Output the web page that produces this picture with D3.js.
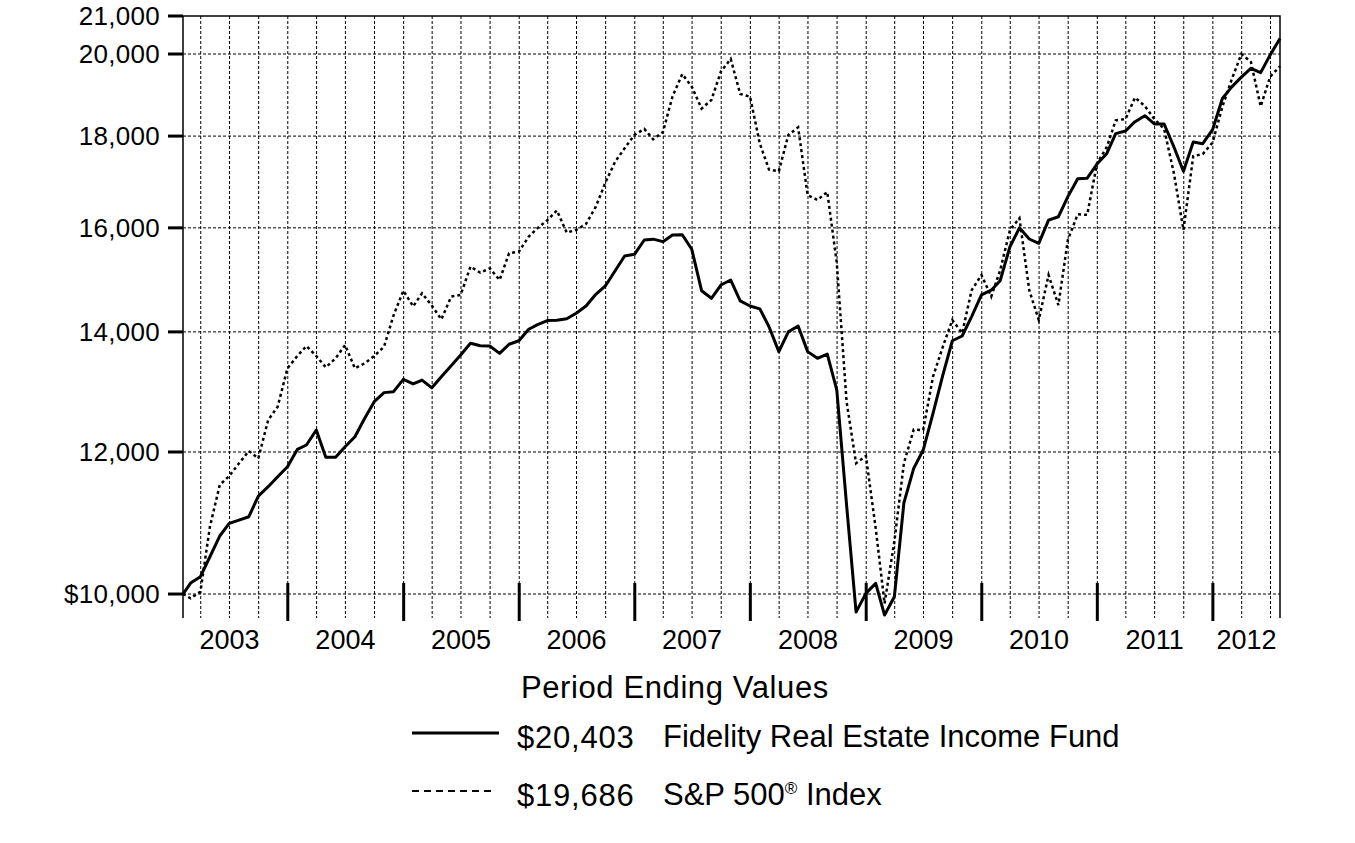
<!DOCTYPE html>
<html>
<head>
<meta charset="utf-8">
<script src="https://cdn.jsdelivr.net/npm/d3@7"></script>
<style>
  body { margin: 0; background: #fff; }
  text { font-family: "Liberation Sans", Arial, sans-serif; fill: #000; }
</style>
</head>
<body>
<div id="chart"></div>
<script>
// Hypothetical $10,000 investment, first point is the start date, then month ends
const startDate = new Date(2003, 1, 4);
const endDate = new Date(2012, 6, 31);

// Fidelity Real Estate Income Fund (solid)
const fundValues = [10000,
  10142, 10225, 10490, 10773, 10950, 10996, 11043, 11340, 11477, 11625, 11775,          // 2003 Feb-Dec
  12040, 12108, 12343, 11918, 11918, 12080, 12237, 12530, 12800, 12950, 12966, 13173,   // 2004
  13095, 13160, 13030, 13218, 13405, 13590, 13796, 13754, 13750, 13620, 13780, 13842,   // 2005
  14047, 14130, 14206, 14210, 14237, 14338, 14473, 14692, 14850, 15144, 15433, 15465,   // 2006
  15753, 15770, 15719, 15853, 15860, 15566, 14760, 14617, 14868, 14964, 14567, 14473,   // 2007
  14420, 14093, 13650, 14000, 14106, 13650, 13533, 13608, 12994, 11210, 9771, 10009,    // 2008
  10138, 9734, 9966, 11240, 11750, 12030, 12611, 13246, 13842, 13926, 14276, 14680,     // 2009
  14770, 14950, 15617, 16000, 15773, 15686, 16160, 16230, 16654, 17040, 17054, 17366,   // 2010
  17604, 18057, 18117, 18336, 18478, 18282, 18282, 17750, 17205, 17862, 17826, 18148,   // 2011
  18890, 19167, 19415, 19637, 19527, 19977, 20403                                       // 2012 Jan-Jul
];

// S&P 500 Index (dashed)
const spValues = [10000,
  9945, 10030, 10902, 11502, 11636, 11827, 12015, 11903, 12502, 12719, 13361,           // 2003 Feb-Dec
  13573, 13749, 13573, 13378, 13533, 13766, 13361, 13447, 13573, 13736, 14300, 14760,   // 2004
  14466, 14712, 14480, 14228, 14648, 14680, 15223, 15105, 15190, 14964, 15487, 15520,   // 2005
  15820, 15995, 16160, 16360, 15903, 15957, 16080, 16440, 16955, 17419, 17722, 18026,   // 2006
  18166, 17926, 18093, 18935, 19490, 19180, 18646, 18855, 19554, 19875, 19000, 18935,   // 2007
  17826, 17243, 17205, 18026, 18203, 16687, 16583, 16754, 15300, 12800, 11827, 11940,   // 2008
  10880, 9880, 10700, 11827, 12350, 12343, 13218, 13736, 14215, 13977, 14770, 15060,    // 2009
  14650, 15150, 15957, 16200, 14770, 14215, 15060, 14490, 15755, 16280, 16270, 17378,   // 2010
  17750, 18366, 18400, 18914, 18707, 18400, 18166, 17157, 15957, 17543, 17590, 17850,   // 2011
  18690, 19349, 20000, 19800, 18700, 19430, 19686                                       // 2012 Jan-Jul
];

const yTicks = [10000, 12000, 14000, 16000, 18000, 20000, 21000];
const years = d3.range(2003, 2013);

const legendTitle = "Period Ending Values";
const seriesNames = ["Fidelity Real Estate Income Fund", "S&P 500\u00AE Index"];
const endingValues = ["$20,403", "$19,686"];

// Dates: start date, then every month end from Feb 2003 through July 2012
const monthEnds = d3.timeMonth.range(new Date(2003, 2, 1), new Date(2012, 8, 1))
  .map(d => d3.timeDay.offset(d, -1));
const dates = [startDate].concat(monthEnds);

const width = 1355, height = 843;
const plotLeft = 183, plotRight = 1280, plotTop = 16, plotBottom = 618;

const x = d3.scaleTime().domain([startDate, endDate]).range([plotLeft, plotRight]);
const y = d3.scaleLog().domain([9697, 21000]).range([plotBottom, plotTop]);

const svg = d3.select("#chart").append("svg")
    .attr("width", width)
    .attr("height", height);

// Vertical grid: every quarter
const quarters = d3.timeMonth.every(3).range(new Date(2003, 3, 1), d3.timeDay.offset(endDate, 1));
svg.append("g")
  .selectAll("line")
  .data(quarters)
  .join("line")
    .attr("x1", d => x(d)).attr("x2", d => x(d))
    .attr("y1", plotTop).attr("y2", plotBottom)
    .attr("stroke", "#000")
    .attr("stroke-width", 1)
    .attr("stroke-dasharray", "3,2");

// Horizontal grid at the tick values (top one is the frame)
svg.append("g")
  .selectAll("line")
  .data(yTicks.filter(d => d < 21000))
  .join("line")
    .attr("x1", plotLeft).attr("x2", plotRight)
    .attr("y1", d => y(d)).attr("y2", d => y(d))
    .attr("stroke", "#000")
    .attr("stroke-width", 1)
    .attr("stroke-dasharray", "3,2");

// Frame: left axis, top and right borders
svg.append("path")
    .attr("d", `M${plotLeft},${plotBottom}V${plotTop}H${plotRight}V${plotBottom}`)
    .attr("fill", "none")
    .attr("stroke", "#000")
    .attr("stroke-width", 1.5);

// Y axis ticks and labels
const yAxis = svg.append("g");
yAxis.selectAll("line")
  .data(yTicks)
  .join("line")
    .attr("x1", plotLeft - 15).attr("x2", plotLeft)
    .attr("y1", d => y(d)).attr("y2", d => y(d))
    .attr("stroke", "#000")
    .attr("stroke-width", 3);
yAxis.selectAll("text")
  .data(yTicks)
  .join("text")
    .attr("x", plotLeft - 23)
    .attr("y", d => y(d))
    .attr("dy", "0.36em")
    .attr("text-anchor", "end")
    .attr("font-size", 26)
    .attr("letter-spacing", 0.3)
    .text(d => (d === 10000 ? "$" : "") + d3.format(",")(d));

// Year boundary ticks
svg.append("g")
  .selectAll("line")
  .data(years.slice(1).map(yr => new Date(yr, 0, 1)))
  .join("line")
    .attr("x1", d => x(d)).attr("x2", d => x(d))
    .attr("y1", plotBottom - 35).attr("y2", plotBottom + 3)
    .attr("stroke", "#000")
    .attr("stroke-width", 3);

// Year labels, centred on mid-year (last one centred in its visible part)
svg.append("g")
  .selectAll("text")
  .data(years)
  .join("text")
    .attr("x", yr => Math.min(x(new Date(yr, 6, 1)), (x(new Date(yr, 0, 1)) + plotRight) / 2))
    .attr("y", plotBottom + 31)
    .attr("text-anchor", "middle")
    .attr("font-size", 27)
    .text(yr => yr);

// Lines
const line = values => d3.line()
    .x((d, i) => x(dates[i]))
    .y(d => y(d))(values);

svg.append("path")
    .attr("d", line(spValues))
    .attr("fill", "none")
    .attr("stroke", "#000")
    .attr("stroke-width", 2.5)
    .attr("stroke-dasharray", "3,3");

svg.append("path")
    .attr("d", line(fundValues))
    .attr("fill", "none")
    .attr("stroke", "#000")
    .attr("stroke-width", 3)
    .attr("stroke-linejoin", "round");

// Legend
const legend = svg.append("g");
legend.append("text")
    .attr("x", 521).attr("y", 698)
    .attr("font-size", 31)
    .attr("letter-spacing", 0.6)
    .text(legendTitle);

const rows = [0, 1];
legend.selectAll("line")
  .data(rows)
  .join("line")
    .attr("x1", 412).attr("x2", d => d === 0 ? 499 : 495)
    .attr("y1", d => 733 + d * 58).attr("y2", d => 733 + d * 58)
    .attr("stroke", "#000")
    .attr("stroke-width", d => d === 0 ? 3 : 2)
    .attr("stroke-dasharray", d => d === 0 ? null : "7,5");

legend.selectAll("text.val")
  .data(rows)
  .join("text")
    .attr("class", "val")
    .attr("x", 517).attr("y", d => 748 + d * 58)
    .attr("font-size", 31)
    .attr("letter-spacing", 0.8)
    .text(d => endingValues[d]);

legend.selectAll("text.name")
  .data(rows)
  .join("text")
    .attr("class", "name")
    .attr("x", 663).attr("y", d => 747 + d * 58)
    .attr("font-size", 31)
    .each(function(d) {
      const t = d3.select(this);
      if (d === 0) { t.text(seriesNames[0]); return; }
      // superscript registered mark
      const parts = seriesNames[1].split("\u00AE");
      t.append("tspan").text(parts[0]);
      t.append("tspan").attr("font-size", 17).attr("dy", -11).text("\u00AE");
      t.append("tspan").attr("dy", 11).text(parts[1]);
    });
</script>
</body>
</html>
